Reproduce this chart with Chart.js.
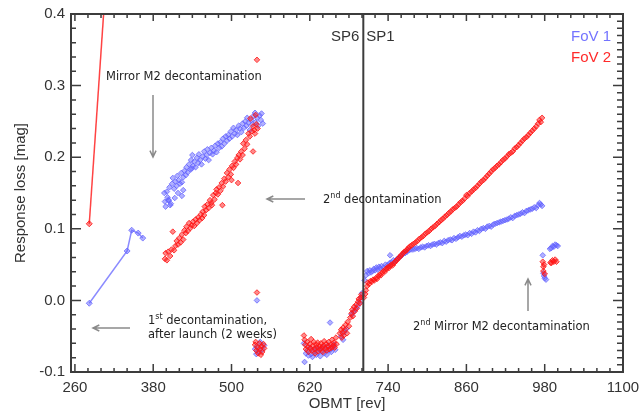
<!DOCTYPE html>
<html><head><meta charset="utf-8">
<script src="https://cdn.jsdelivr.net/npm/chart.js@4/dist/chart.umd.min.js"></script>
<style>html,body{margin:0;padding:0;background:#fff;}#wrap{width:641px;height:414px;}</style>
</head><body><div id="wrap"><canvas id="c" width="641" height="414"></canvas></div>
<script>
// ---------------- data (OBMT rev, response loss mag) ----------------
const xTickValues = [260, 380, 500, 620, 740, 860, 980, 1100];
const yTickValues = [-0.1, 0.0, 0.1, 0.2, 0.3, 0.4];
const spBoundaryRev = 702;

// early (first decontamination) measurements, drawn with lines
const fov1EarlyRev = [282, 340, 347, 357, 364];
const fov1EarlyMag = [-0.004, 0.069, 0.098, 0.094, 0.087];
const fov2EarlyRev = [282, 340];
const fov2EarlyMag = [0.107, 0.88];

// after mirror M2 decontamination, before 2nd decontamination
const fov1DeconRev = [397,398,399,401,402,403,404,405,406,407,409,410,412,413,414,416,417,418,419,421,423,424,424,426,426,428,430,431,433,435,437,438,439,440,441,443,445,447,449,450,452,454,456,458,460,462,463,465,467,469,471,473,475,477,479,481,483,485,487,489,491,493,495,497,499,501,503,505,507,509,511,513,515,517,519,521,523,524,526,528,530,532,534,536,537,539,541,543,545,546,548];
const fov1DeconMag = [0.150,0.138,0.131,0.152,0.144,0.140,0.140,0.158,0.133,0.135,0.163,0.171,0.156,0.143,0.166,0.160,0.174,0.150,0.168,0.163,0.178,0.165,0.146,0.172,0.154,0.181,0.175,0.186,0.179,0.190,0.183,0.196,0.184,0.203,0.188,0.194,0.186,0.199,0.192,0.204,0.196,0.190,0.201,0.208,0.198,0.203,0.211,0.196,0.206,0.213,0.204,0.209,0.216,0.207,0.219,0.213,0.221,0.215,0.226,0.219,0.229,0.223,0.231,0.226,0.236,0.229,0.241,0.233,0.238,0.231,0.244,0.240,0.235,0.247,0.241,0.250,0.244,0.255,0.248,0.238,0.252,0.246,0.258,0.262,0.249,0.255,0.244,0.258,0.252,0.261,0.247];
const fov2DeconRev = [398,399,401,403,406,408,410,412,414,416,418,420,422,424,426,428,430,431,433,435,437,439,441,443,445,447,449,451,453,455,456,458,459,461,463,465,467,469,470,472,474,476,477,479,481,483,485,486,487,489,491,493,495,497,499,500,501,503,505,507,509,510,511,513,515,517,518,520,522,524,526,528,529,531,533,533,535,536,537,538,539,540];
const fov2DeconMag = [0.058,0.066,0.056,0.068,0.062,0.071,0.096,0.070,0.076,0.083,0.078,0.087,0.081,0.092,0.085,0.098,0.094,0.103,0.097,0.108,0.101,0.105,0.110,0.104,0.113,0.108,0.116,0.112,0.120,0.115,0.124,0.119,0.131,0.126,0.134,0.129,0.140,0.136,0.133,0.147,0.141,0.150,0.155,0.148,0.158,0.153,0.164,0.133,0.159,0.170,0.166,0.178,0.172,0.183,0.176,0.168,0.188,0.185,0.194,0.190,0.199,0.164,0.203,0.197,0.208,0.203,0.219,0.212,0.224,0.218,0.233,0.229,0.254,0.236,0.243,0.208,0.238,0.233,0.259,0.246,0.336,0.240];

// after 2nd decontamination (around OBMT 540-555)
const fov1AfterRev = [539,536,538,539,542,544,547,550];
const fov1AfterMag = [0.000,-0.068,-0.075,-0.064,-0.072,-0.058,-0.069,-0.063];
const fov2AfterRev = [539,536,537,538,540,541,543,544,545,546,547,549,550];
const fov2AfterMag = [0.011,-0.062,-0.058,-0.070,-0.066,-0.074,-0.060,-0.068,-0.076,-0.064,-0.072,-0.061,-0.067];

// OBMT 610-700 (end of SP6)
const fov1StableRev = [611,612,614,616,618,620,622,624,626,628,630,632,634,636,638,640,642,644,646,648,650,651,653,655,657,659,668,671,673,676,684,687,690,693,696,699,700];
const fov1StableMag = [-0.060,-0.086,-0.074,-0.070,-0.077,-0.066,-0.075,-0.079,-0.071,-0.067,-0.076,-0.073,-0.068,-0.078,-0.071,-0.065,-0.074,-0.069,-0.076,-0.063,-0.070,-0.031,-0.072,-0.066,-0.062,-0.069,-0.050,-0.055,-0.044,-0.040,-0.020,-0.016,-0.012,-0.008,-0.003,0.004,0.010];
const fov2StableRev = [611,612,613,614,616,617,618,620,621,622,623,625,626,627,628,630,631,632,633,635,636,637,639,640,641,642,644,645,646,648,649,650,652,653,654,656,657,658,660,661,666,668,669,670,671,672,674,675,677,678,680,682,684,685,686,688,689,691,692,694,695,697,698,699];
const fov2StableMag = [-0.049,-0.055,-0.062,-0.068,-0.058,-0.065,-0.072,-0.061,-0.067,-0.054,-0.070,-0.063,-0.058,-0.068,-0.074,-0.062,-0.066,-0.059,-0.071,-0.064,-0.068,-0.060,-0.066,-0.072,-0.063,-0.057,-0.067,-0.061,-0.070,-0.064,-0.058,-0.068,-0.062,-0.066,-0.055,-0.063,-0.059,-0.066,-0.052,-0.061,-0.046,-0.041,-0.052,-0.045,-0.038,-0.049,-0.041,-0.034,-0.046,-0.030,-0.036,-0.024,-0.018,-0.013,-0.022,-0.009,-0.015,-0.006,-0.011,-0.002,0.002,-0.004,0.004,0.008];

// SP1 period
const fov1Sp1Rev = [704,706,708,710,712,714,716,718,720,722,724,726,728,730,733,736,739,742,743,745,748,751,754,757,760,763,766,769,772,775,778,781,784,787,790,793,796,799,802,805,808,811,814,817,820,823,826,829,832,835,838,841,844,847,850,853,856,859,862,865,868,871,874,877,880,883,886,889,892,895,898,901,904,907,910,913,916,919,922,925,928,931,934,937,940,943,946,949,952,955,958,961,964,967,970,972,974,976];
const fov1Sp1Mag = [0.028,0.035,0.041,0.038,0.042,0.039,0.041,0.044,0.042,0.046,0.043,0.047,0.045,0.048,0.046,0.050,0.049,0.052,0.063,0.053,0.056,0.055,0.058,0.060,0.062,0.065,0.066,0.068,0.070,0.071,0.071,0.072,0.073,0.072,0.074,0.075,0.074,0.076,0.077,0.076,0.078,0.079,0.078,0.080,0.081,0.080,0.083,0.082,0.084,0.085,0.084,0.087,0.086,0.088,0.090,0.089,0.091,0.092,0.091,0.094,0.093,0.096,0.095,0.098,0.097,0.100,0.101,0.100,0.103,0.104,0.103,0.106,0.107,0.108,0.109,0.110,0.111,0.112,0.113,0.114,0.116,0.115,0.118,0.119,0.120,0.121,0.123,0.122,0.125,0.126,0.127,0.128,0.130,0.129,0.133,0.136,0.134,0.132];
const fov2Sp1Rev = [703,705,706,708,709,711,713,715,717,719,721,723,725,727,729,731,733,735,737,739,741,743,745,747,749,751,753,755,757,759,761,763,765,767,769,771,773,776,779,782,785,788,791,794,797,800,803,806,809,812,815,818,821,824,827,830,833,836,839,842,845,848,851,854,857,860,862,865,868,871,874,877,880,883,886,889,892,895,898,901,904,907,910,913,916,919,922,925,928,931,934,937,940,943,946,949,952,955,958,961,964,967,970,972,974,976];
const fov2Sp1Mag = [0.004,0.009,0.014,0.020,0.025,0.023,0.027,0.026,0.029,0.028,0.031,0.030,0.034,0.036,0.035,0.039,0.041,0.040,0.044,0.046,0.045,0.048,0.050,0.049,0.052,0.054,0.056,0.058,0.060,0.062,0.064,0.066,0.068,0.069,0.071,0.073,0.075,0.077,0.079,0.081,0.083,0.086,0.088,0.090,0.093,0.095,0.097,0.100,0.102,0.104,0.107,0.109,0.112,0.114,0.117,0.119,0.122,0.124,0.127,0.129,0.131,0.134,0.137,0.139,0.142,0.147,0.146,0.150,0.152,0.155,0.157,0.160,0.163,0.166,0.168,0.171,0.174,0.177,0.180,0.183,0.185,0.188,0.190,0.193,0.196,0.198,0.201,0.204,0.206,0.208,0.212,0.214,0.217,0.220,0.223,0.226,0.228,0.231,0.234,0.237,0.240,0.243,0.247,0.252,0.249,0.255];

// after 2nd mirror M2 decontamination
const fov1LateRev = [977,978,979,980,982,988,990,992,994,996,998,1000];
const fov1LateMag = [0.063,0.038,0.034,0.031,0.029,0.072,0.073,0.076,0.075,0.078,0.077,0.076];
const fov2LateRev = [977,978,978,979,980,989,990,992,994,996,998];
const fov2LateMag = [0.054,0.047,0.041,0.050,0.037,0.053,0.052,0.056,0.054,0.057,0.054];

// ---------------- build ----------------
const zip = (xs, ys) => xs.map((v, i) => ({x: v, y: ys[i]}));
const blue = 'rgba(100,100,255,0.75)', blueFill = 'rgba(100,100,255,0.5)';
const red = 'rgba(255,20,20,0.8)', redFill = 'rgba(255,20,20,0.5)';
const tickFont = {family: '"Liberation Sans", Arial, sans-serif', size: 15};
const annFont = '11.5px "DejaVu Sans", Verdana, sans-serif';
const supFont = '8px "DejaVu Sans", Verdana, sans-serif';

const fov2Scatter = [].concat(zip(fov2DeconRev, fov2DeconMag), zip(fov2AfterRev, fov2AfterMag),
  zip(fov2StableRev, fov2StableMag), zip(fov2Sp1Rev, fov2Sp1Mag), zip(fov2LateRev, fov2LateMag));
const fov1Scatter = [].concat(zip(fov1DeconRev, fov1DeconMag), zip(fov1AfterRev, fov1AfterMag),
  zip(fov1StableRev, fov1StableMag), zip(fov1Sp1Rev, fov1Sp1Mag), zip(fov1LateRev, fov1LateMag));

function drawParts(ctx, parts, x, y) {
  let cx = x;
  parts.forEach(([t, sup]) => {
    ctx.font = sup ? supFont : annFont;
    ctx.fillText(t, cx, sup ? y - 4 : y);
    cx += ctx.measureText(t).width;
  });
}
function arrow(ctx, x1, y1, x2, y2) {
  const a = Math.atan2(y2 - y1, x2 - x1), h = 7, s = 0.45;
  ctx.beginPath();
  ctx.moveTo(x1, y1); ctx.lineTo(x2, y2);
  ctx.moveTo(x2 - h * Math.cos(a - s), y2 - h * Math.sin(a - s)); ctx.lineTo(x2, y2);
  ctx.lineTo(x2 - h * Math.cos(a + s), y2 - h * Math.sin(a + s));
  ctx.stroke();
}

const framePlugin = {
  id: 'frame',
  afterDraw(chart) {
    const {ctx, chartArea: {left, right, top, bottom}, scales: {x, y}} = chart;
    ctx.save();
    ctx.strokeStyle = '#3c3c3c';
    ctx.lineWidth = 1.5;
    ctx.beginPath();
    for (let v = 260; v <= 1100; v += 20) {
      const px = x.getPixelForValue(v);
      const major = (v - 260) % 120 === 0;
      ctx.moveTo(px, bottom); ctx.lineTo(px, bottom - (major ? 8 : 4));
      ctx.moveTo(px, top); ctx.lineTo(px, top + (major ? 7 : 4));
    }
    for (let k = -50; k <= 200; k += 1) {
      const v = k / 500, py = y.getPixelForValue(v);
      const major = k % 50 === 0;
      if (k % 10 === 0) { ctx.moveTo(left, py); ctx.lineTo(left + (major ? 10 : 5), py); }
      if (k % 5 === 0) { ctx.moveTo(right, py); ctx.lineTo(right - (major ? 10 : 6), py); }
    }
    ctx.stroke();
    ctx.lineWidth = 2;
    ctx.strokeRect(left, top, right - left, bottom - top);
    // SP6 / SP1 boundary
    const bx = x.getPixelForValue(spBoundaryRev);
    ctx.beginPath(); ctx.moveTo(bx, top); ctx.lineTo(bx, bottom); ctx.stroke();
    ctx.font = '15px "Liberation Sans", Arial, sans-serif';
    ctx.textBaseline = 'middle';
    ctx.fillStyle = '#333';
    ctx.textAlign = 'right'; ctx.fillText('SP6', bx - 4, 37);
    ctx.textAlign = 'left'; ctx.fillText('SP1', bx + 3, 37);
    // legend
    ctx.textAlign = 'right';
    ctx.fillStyle = '#7373ff'; ctx.fillText('FoV 1', 611, 37);
    ctx.fillStyle = '#ff2a2a'; ctx.fillText('FoV 2', 611, 58);
    // annotations
    ctx.textAlign = 'left';
    ctx.fillStyle = '#222';
    drawParts(ctx, [['Mirror M2 decontamination']], 106, 77);
    drawParts(ctx, [['2'], ['nd', true], [' decontamination']], 323, 200);
    drawParts(ctx, [['1'], ['st', true], [' decontamination,']], 148, 321);
    drawParts(ctx, [['after launch (2 weeks)']], 148, 335);
    drawParts(ctx, [['2'], ['nd', true], [' Mirror M2 decontamination']], 413, 327);
    ctx.strokeStyle = '#8a8a8a';
    ctx.lineWidth = 1.5;
    arrow(ctx, 153, 95, 153, 157);
    arrow(ctx, 305, 199, 267, 199);
    arrow(ctx, 130, 328, 93, 328);
    arrow(ctx, 528, 311, 528, 279);
    ctx.restore();
  }
};

new Chart(document.getElementById('c'), {
  type: 'scatter',
  data: {
    datasets: [
      {label: 'FoV 2 early', data: zip(fov2EarlyRev, fov2EarlyMag), showLine: true, borderColor: red, backgroundColor: redFill,
        borderWidth: 1.5, pointStyle: 'rectRot', pointRadius: 3, pointBorderWidth: 1, pointBorderColor: red},
      {label: 'FoV 2', data: fov2Scatter, borderColor: red, backgroundColor: redFill,
        pointStyle: 'rectRot', pointRadius: 2.8, pointBorderWidth: 1},
      {label: 'FoV 1 early', data: zip(fov1EarlyRev, fov1EarlyMag), showLine: true, borderColor: blue, backgroundColor: blueFill,
        borderWidth: 1.5, pointStyle: 'rectRot', pointRadius: 3, pointBorderWidth: 1, pointBorderColor: blue},
      {label: 'FoV 1', data: fov1Scatter, borderColor: blue, backgroundColor: blueFill,
        pointStyle: 'rectRot', pointRadius: 2.8, pointBorderWidth: 1}
    ]
  },
  options: {
    responsive: false,
    animation: false,
    devicePixelRatio: 1,
    layout: {padding: {left: 0, right: 18, top: 14, bottom: 0}},
    plugins: {legend: {display: false}, tooltip: {enabled: false}},
    scales: {
      x: {
        type: 'linear', min: 254, max: 1100,
        afterBuildTicks: s => { s.ticks = xTickValues.map(v => ({value: v})); },
        afterFit: s => { s.height = 42; s.paddingLeft = 0; s.paddingRight = 0; },
        ticks: {font: tickFont, color: '#333', padding: 7, maxRotation: 0, autoSkip: false, callback: v => String(v)},
        grid: {display: false, drawTicks: false},
        border: {display: false},
        title: {display: true, text: 'OBMT [rev]', font: tickFont, color: '#333', padding: {top: 0, bottom: 1}}
      },
      y: {
        type: 'linear', min: -0.1, max: 0.4,
        afterBuildTicks: s => { s.ticks = yTickValues.map(v => ({value: v})); },
        afterFit: s => { s.width = 71; s.paddingTop = 0; s.paddingBottom = 0; },
        ticks: {font: tickFont, color: '#333', padding: 6, callback: v => v.toFixed(1)},
        grid: {display: false, drawTicks: false},
        border: {display: false},
        title: {display: true, text: 'Response loss [mag]', font: tickFont, color: '#333', padding: {top: 12, bottom: 0}}
      }
    }
  },
  plugins: [framePlugin]
});
</script>
</body></html>
